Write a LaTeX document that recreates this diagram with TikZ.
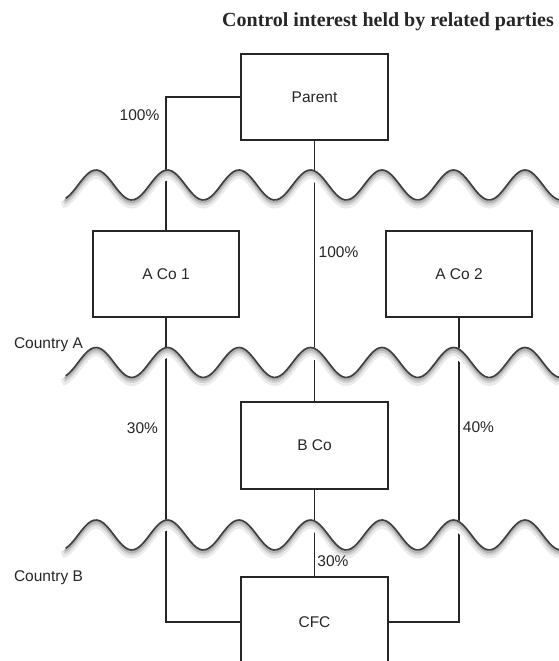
\documentclass[tikz,border=0pt]{standalone}
\usepackage{fontspec}
\setsansfont{Liberation Sans}
\newfontfamily\titlefont{Liberation Serif}
\begin{document}
\begin{tikzpicture}[x=1pt,y=-1pt,
  entity/.style={draw=black!85,line width=1.3pt,inner sep=0pt,
    minimum width=147pt,minimum height=86pt,
    font=\sffamily\fontsize{15.5}{18}\selectfont,text=black!85},
  lbl/.style={inner sep=0pt,font=\sffamily\fontsize{15.5}{18}\selectfont,text=black!85},
  link/.style={draw=black!85,line width=1.3pt}]
\useasboundingbox (0,0) rectangle (559,661);

% title
\node[anchor=base west,inner sep=0pt,font=\titlefont\bfseries\fontsize{20}{24}\selectfont,text=black!85]
  (title) at (222,27) {Control interest held by related parties};

% companies
\node[entity] (parent) at (314.5,97) {Parent};
\node[entity,minimum width=146pt] (aco1) at (166,274) {A Co 1};
\node[entity,minimum width=146pt] (aco2) at (459,274) {A Co 2};
\node[entity,minimum height=87pt] (bco) at (314.5,445.5) {B Co};
\node[entity,minimum height=90pt] (cfc) at (314.5,622) {CFC};

% ownership links
\draw[link] (parent.west) -| (aco1.north);
\draw[link] (parent.south) -- (bco.north);
\draw[link] (bco.south) -- (cfc.north);
\draw[link] (aco1.south) |- (cfc.west);
\draw[link] (aco2.south) |- (cfc.east);

% border waves (period 71.5, i.e. 5.035 degrees per unit) with a soft shadow
\foreach \my in {185,362.5,535}{
  \draw[white,line width=11pt,yshift=-5pt]
    plot[domain=62:559,samples=160] (\x,{\my-15*cos(5.035*(\x-96))});
  \draw[black!8,line width=7pt,yshift=-5pt]
    plot[domain=62:559,samples=160] (\x,{\my-15*cos(5.035*(\x-96))});
  \draw[black!18,line width=4pt,yshift=-3.5pt]
    plot[domain=64:559,samples=160] (\x,{\my-15*cos(5.035*(\x-96))});
  \draw[black!30,line width=2.5pt,yshift=-2pt]
    plot[domain=65:559,samples=160] (\x,{\my-15*cos(5.035*(\x-96))});
  \draw[black!75,line width=1.7pt,line cap=round]
    plot[domain=66:559,samples=160] (\x,{\my-15*cos(5.035*(\x-96))});
}

% percentages
\node[lbl] (p1) at (139.5,115) {100\%};
\node[lbl] (p2) at (338.5,252.5) {100\%};
\node[lbl] (p3) at (142.5,428) {30\%};
\node[lbl] (p4) at (478.5,427) {40\%};
\node[lbl] (p5) at (333,561) {30\%};

% country labels
\node[lbl] (ca) at (48.5,345) {Country A};
\node[lbl] (cb) at (48.5,578) {Country B};
\end{tikzpicture}
\end{document}
